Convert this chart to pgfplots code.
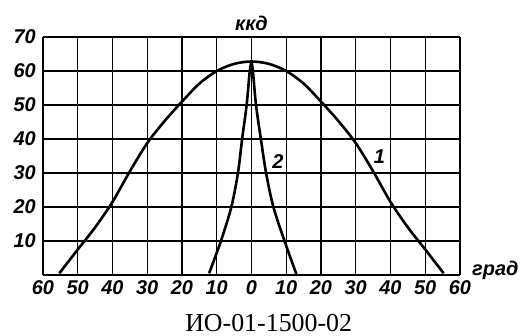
\documentclass[border=0pt]{standalone}
\usepackage{fontspec}
\setmainfont{Liberation Sans}
\newfontfamily\capfont{Liberation Serif}
\usepackage{pgfplots}
\pgfplotsset{compat=1.18}
\newcommand\lbl{\fontsize{20}{20}\selectfont\bfseries\itshape}
\begin{document}
\begin{tikzpicture}
\useasboundingbox (-43bp,-61bp) rectangle (480bp,275bp);
\begin{axis}[
    scale only axis,
    width=417bp, height=238bp,
    xmin=-60, xmax=60, ymin=0, ymax=70,
    axis lines*=left,
    axis line style={line width=2.2bp, black},
    xtick={-60,-50,...,60},
    ytick={10,20,...,70},
    xticklabels={60,50,40,30,20,10,0,10,20,30,40,50,60},
    yticklabels={10,20,30,40,50,60,70},
    major tick length=0pt,
    grid=major,
    grid style={line width=1.4bp, black},
    tick label style={font=\lbl},
    xticklabel style={inner sep=0pt, yshift=-5bp},
    yticklabel style={inner sep=0pt, xshift=-7bp},
    clip=false,
]
% curve 1 (wide)
\addplot[black, line width=2.6bp, smooth] coordinates {
    (-55.3,0.5) (-50,7.5) (-45,14) (-40,21.5) (-35,30.5) (-30,38.8)
    (-25,45.3) (-20,51) (-15,56.3) (-10,60) (-5,62.1) (0,62.8)
    (5,62.1) (10,60) (15,56.3) (20,51) (25,45.3) (30,38.8)
    (35,30.5) (40,21.5) (45,14) (50,7.5) (55.3,0.5)
};
% curve 2 (narrow), two branches meeting at the peak
\addplot[black, line width=2.6bp, smooth] coordinates {
    (-12.2,0.5) (-8.8,10) (-5.8,20) (-3.9,30) (-2.7,40) (-1.4,50) (-0.5,60) (0,62.7)
};
\addplot[black, line width=2.6bp, smooth] coordinates {
    (0,62.7) (0.4,60) (1.3,50) (2.7,40) (4.2,30) (6.3,20) (9.5,10) (12.9,0.3)
};
\node[font=\lbl, inner sep=0pt] at (axis cs:36.8,34.7) {1};
\node[font=\lbl, inner sep=0pt] at (axis cs:7.6,33.5) {2};
\node[font=\lbl, inner sep=0pt, anchor=base] at (axis cs:0,70) [yshift=7bp] {ккд};
\node[font=\lbl, inner sep=0pt, anchor=base west] at (axis cs:60,0) [xshift=12bp] {град};
\end{axis}
\node[font=\capfont\fontsize{26}{26}\selectfont, inner sep=0pt, anchor=base] at (225.7bp,-56bp) {ИО-01-1500-02};
\end{tikzpicture}
\end{document}
